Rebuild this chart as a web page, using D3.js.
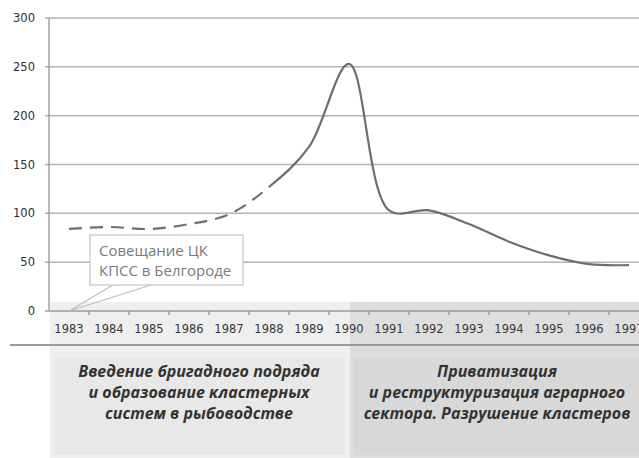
<!DOCTYPE html>
<html>
<head>
<meta charset="utf-8">
<script src="https://cdn.jsdelivr.net/npm/d3@7"></script>
<style>
  body { margin: 0; background: #fff; }
  svg { display: block; }
</style>
</head>
<body>
<div id="chart"></div>
<script>
// data
const years = ["1983", "1984", "1985", "1986", "1987", "1988", "1989", "1990",
               "1991", "1992", "1993", "1994", "1995", "1996", "1997"];
const values = [84, 86, 84, 89, 99, 127, 168, 253, 103, 103, 89, 71, 57, 48, 47];
const yTicks = [0, 50, 100, 150, 200, 250, 300];
const dashedUntil = "1988"; // estimated period shown as dashed
const calloutLines = ["Совещание ЦК", "КПСС в Белгороде"];
const calloutYear = "1983";
const periodLeft = ["Введение бригадного подряда", "и образование кластерных", "систем в рыбоводстве"];
const periodRight = ["Приватизация", "и реструктуризация аграрного", "сектора. Разрушение кластеров"];
const splitYear = "1990";

const width = 639, height = 458;
const margin = { top: 18, left: 49, bottom: 147 };

const svg = d3.select("#chart").append("svg")
    .attr("width", width).attr("height", height);

const x = d3.scaleBand().domain(years).range([margin.left, margin.left + 600]);
const y = d3.scaleLinear().domain([0, 300]).range([height - margin.bottom, margin.top]);
const cx = d => x(d) + x.bandwidth() / 2;

// shaded period bands below the axis (the split falls mid-1990)
const splitX = cx(splitYear) + 1;
svg.append("rect").attr("x", margin.left + 1).attr("y", y(0) - 9)
    .attr("width", splitX - margin.left - 1).attr("height", height - y(0) + 9)
    .attr("fill", "#efefef");
svg.append("rect").attr("x", splitX).attr("y", y(0) - 9)
    .attr("width", width - splitX).attr("height", height - y(0) + 9)
    .attr("fill", "#dedede");
svg.append("rect").attr("x", 55).attr("y", 358)
    .attr("width", splitX - 60).attr("height", 97).attr("fill", "#e8e8e8");
svg.append("rect").attr("x", splitX + 3).attr("y", 358)
    .attr("width", width - splitX - 3).attr("height", 97).attr("fill", "#d8d8d8");
svg.append("line").attr("x1", 10).attr("x2", width).attr("y1", 345).attr("y2", 345)
    .attr("stroke", "#9a9a9a").attr("stroke-width", 2);

// gridlines
svg.append("g").selectAll("line").data(yTicks.slice(1)).join("line")
    .attr("x1", margin.left - 4).attr("x2", width)
    .attr("y1", d => y(d)).attr("y2", d => y(d))
    .attr("stroke", "#b3b3b3").attr("stroke-width", 1.5);

// axes
svg.append("line").attr("x1", margin.left).attr("x2", margin.left)
    .attr("y1", y(300)).attr("y2", y(0)).attr("stroke", "#a0a0a0").attr("stroke-width", 1.5);
svg.append("line").attr("x1", margin.left - 4).attr("x2", width)
    .attr("y1", y(0)).attr("y2", y(0)).attr("stroke", "#9a9a9a").attr("stroke-width", 1.5);

svg.append("g").selectAll("text").data(yTicks).join("text")
    .attr("x", 35).attr("y", d => y(d) + 4)
    .attr("text-anchor", "end")
    .style("font-family", "DejaVu Sans").style("font-size", "11.5px")
    .attr("fill", "#2e2e2e")
    .text(d => d);

svg.append("g").selectAll("line").data(years).join("line")
    .attr("x1", d => x(d) + x.bandwidth()).attr("x2", d => x(d) + x.bandwidth())
    .attr("y1", y(0)).attr("y2", y(0) + 4)
    .attr("stroke", "#9a9a9a").attr("stroke-width", 1.5);

svg.append("g").selectAll("text").data(years).join("text")
    .attr("x", d => cx(d)).attr("y", y(0) + 22)
    .attr("text-anchor", "middle")
    .style("font-family", "DejaVu Sans").style("font-size", "11.5px")
    .attr("fill", "#3a3a3a")
    .text(d => d);

// the line, dashed for the early years and solid after
const lineGen = d3.line()
    .x((d, i) => cx(years[i]))
    .y(d => y(d))
    .curve(d3.curveCatmullRom.alpha(0.5));

const cut = cx(dashedUntil) + 8;
const defs = svg.append("defs");
defs.append("clipPath").attr("id", "clipDash").append("rect")
    .attr("x", 0).attr("y", 0).attr("width", cut).attr("height", height);
defs.append("clipPath").attr("id", "clipSolid").append("rect")
    .attr("x", cut).attr("y", 0).attr("width", width - cut).attr("height", height);

svg.append("path").datum(values)
    .attr("d", lineGen).attr("fill", "none")
    .attr("stroke", "#6e6e6e").attr("stroke-width", 2.2)
    .attr("stroke-dasharray", "13,8")
    .attr("clip-path", "url(#clipDash)");
svg.append("path").datum(values)
    .attr("d", lineGen).attr("fill", "none")
    .attr("stroke", "#6e6e6e").attr("stroke-width", 2.2)
    .attr("clip-path", "url(#clipSolid)");

// callout
const anchorX = cx(calloutYear), anchorY = y(0);
const callout = svg.append("g");
callout.append("line").attr("x1", anchorX).attr("y1", anchorY).attr("x2", 113).attr("y2", 285)
    .attr("stroke", "#bdbdbd").attr("stroke-width", 1.2);
callout.append("line").attr("x1", anchorX).attr("y1", anchorY).attr("x2", 151).attr("y2", 285)
    .attr("stroke", "#bdbdbd").attr("stroke-width", 1.2);
callout.append("rect").attr("x", 90).attr("y", 235).attr("width", 153).attr("height", 50)
    .attr("fill", "#fff").attr("stroke", "#c4c4c4").attr("stroke-width", 1.2);
callout.selectAll("text").data(calloutLines).join("text")
    .attr("x", 99).attr("y", (d, i) => 256 + i * 20)
    .style("font-family", "Open Sans").style("font-size", "15px")
    .attr("fill", "#7a7a7a")
    .text(d => d);

// period captions
function caption(lines, xc) {
    svg.append("g").selectAll("text").data(lines).join("text")
        .attr("x", xc).attr("y", (d, i) => 377 + i * 21)
        .attr("text-anchor", "middle")
        .style("font-family", "Open Sans").style("font-size", "16px")
        .style("font-weight", "bold").style("font-style", "italic")
        .attr("fill", "#333")
        .text(d => d);
}
caption(periodLeft, 199);
caption(periodRight, 497);
</script>
</body>
</html>
